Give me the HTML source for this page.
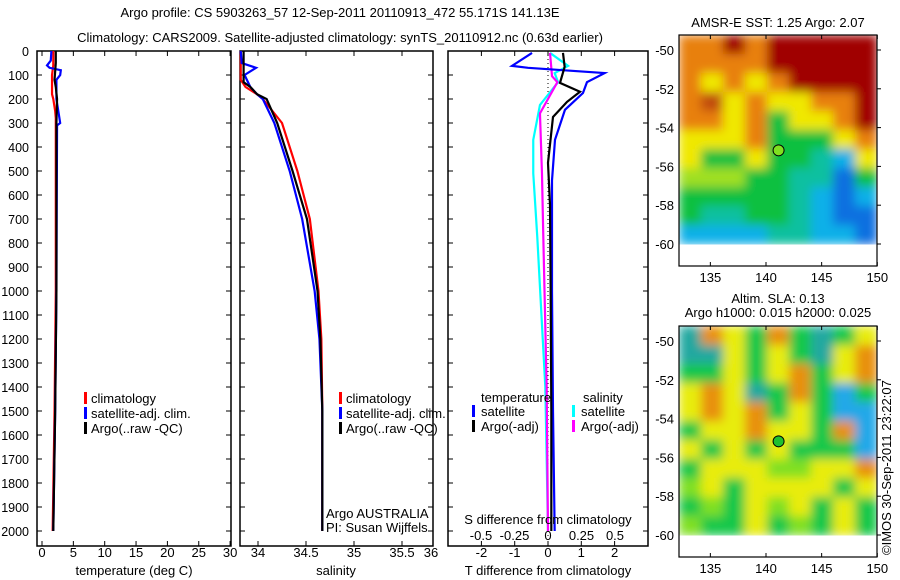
<!DOCTYPE html>
<html><head><meta charset="utf-8"><style>
body{margin:0;background:#fff}
svg{display:block;font-family:"Liberation Sans",sans-serif;font-size:13px}
</style></head><body>
<svg id="fig" width="900" height="580" viewBox="0 0 900 580" xmlns="http://www.w3.org/2000/svg">
<defs>
<filter id="blur" x="0" y="0" width="1" height="1"><feGaussianBlur stdDeviation="5" edgeMode="duplicate"/></filter>
<clipPath id="clipSst"><rect x="679" y="35" width="198" height="210"/></clipPath>
<clipPath id="clipSla"><rect x="679" y="326" width="198" height="210"/></clipPath>
</defs>
<text x="340" y="17" text-anchor="middle">Argo profile: CS 5903263_57 12-Sep-2011 20110913_472 55.171S 141.13E</text>
<text x="340" y="42" text-anchor="middle">Climatology: CARS2009. Satellite-adjusted climatology: synTS_20110912.nc (0.63d earlier)</text>
<g id="g"></g>
</svg>
<script>
// ---- data ----
const depthTicks=[0,100,200,300,400,500,600,700,800,900,1000,1100,1200,1300,1400,1500,1600,1700,1800,1900,2000];
const tTicks=[0,5,10,15,20,25,30];
const sTicks=[34,34.5,35,35.5];
const dTTicks=[-2,-1,0,1,2];
const dSTicks=[-0.5,-0.25,0,0.25,0.5];
const tClimDepth=[0,60,100,180,200,250,280,1000,1500,2000];
const tClimVal=[1.8,1.8,1.6,1.6,1.8,2.1,2.2,2.2,2.0,1.7];
const tArgoDepth=[0,50,120,150,200,300,1000,1500,2000];
const tArgoVal=[2.2,2.2,2.0,2.2,2.4,2.3,2.3,2.1,1.8];
const tSatDepth=[0,40,60,70,80,100,120,200,300,310,1000,1500,2000];
const tSatVal=[1.5,1.4,0.8,1.2,3.0,2.9,2.3,2.3,2.9,2.4,2.3,2.1,1.8];
const sClimDepth=[0,120,150,180,200,300,500,700,1000,1200,1500,2000];
const sClimVal=[33.82,33.82,33.87,33.99,34.05,34.25,34.41,34.54,34.63,34.66,34.67,34.67];
const sArgoDepth=[0,130,150,180,200,300,500,700,1000,1200,1500,2000];
const sArgoVal=[33.85,33.85,33.92,33.99,34.09,34.2,34.36,34.51,34.62,34.65,34.67,34.67];
const sSatDepth=[0,50,70,100,150,180,200,300,500,700,1000,1200,1500,2000];
const sSatVal=[33.82,33.83,33.98,33.86,33.92,33.99,34.05,34.17,34.33,34.46,34.59,34.64,34.67,34.67];
const dTSatDepth=[8,62,70,92,130,175,245,370,540,1000,1500,2000];
const dTSatVal=[-0.48,-1.08,-0.6,1.7,1.17,1.05,0.51,0.21,0.12,0.12,0.15,0.2];
const dTArgoDepth=[8,66,133,170,212,275,466,640,1000,1500,2000];
const dTArgoVal=[0.45,0.5,0.36,0.96,0.57,0.15,0,0.06,0.08,0.1,0.1];
const dSSatDepth=[8,62,92,130,225,370,510,775,1400,2000];
const dSSatVal=[0.015,0.15,0.05,0.075,-0.06,-0.11,-0.11,-0.08,-0.02,0];
const dSArgoDepth=[8,105,130,260,510,775,1400,2000];
const dSArgoVal=[0.015,0.03,0.07,-0.06,-0.045,-0.035,-0.01,0];
const lonTicks=[135,140,145,150];
const latTicks=[-50,-52,-54,-56,-58,-60];
const argoLon=141.13, argoLat=-55.171;
const sstGrid=[
"OODODDDDD","OOOODDDDD","OYOYODDDD","ORYOYYOOD","OOYOGYYOD","YYYOGGGYO","YGGYGGTCY","LLLGGTTBG","GGGGGTCBC","GTTGGTCBB","CCCCTTCCB"];
const slaGrid=[
"TOYGOGTGY","TTYGYGTYO","GGYGYOGYO","YOYTGOGCG","YOYOGYGCC","GYYOYYGOC","YGYGYGGGC","GYYYLLYYO","LYGYYYYGY","GLGYLYGYG","LGGYGLGYG"];
const pal={D:"#a00000",O:"#e8800a",R:"#c04808",Y:"#f0e800",L:"#a0e020",G:"#10c040",T:"#10c0a0",C:"#10b0e8",B:"#1070e0"};
const slaPal={D:"#a00000",O:"#e89010",R:"#c04808",Y:"#e8ec10",L:"#80e020",G:"#18c848",T:"#20a8a0",C:"#20a8e8",B:"#1070e0"};
// ---- helpers ----
const NS="http://www.w3.org/2000/svg";const G=document.getElementById('g');
function el(tag,a,p){const e=document.createElementNS(NS,tag);for(const k in a)e.setAttribute(k,a[k]);(p||G).appendChild(e);return e;}
function txt(x,y,s,anchor,p){const t=el('text',{x:x,y:y,'text-anchor':anchor||'start'},p);t.textContent=s;return t;}
const Y0=51,Y1=546;const yD=d=>Y0+0.24*d;
const xT=t=>42+6.27*t, xS=s=>258+96*(s-34), xdT=v=>548+33.3*v, xdS=v=>548+134*v;
function panel(x0,x1,name){const r=el('rect',{x:x0,y:Y0,width:x1-x0,height:Y1-Y0,fill:'none',stroke:'#000','stroke-width':1.5});


depthTicks.forEach(d=>{el('line',{x1:x0,x2:x0+5,y1:yD(d),y2:yD(d),stroke:'#000'});el('line',{x1:x1-5,x2:x1,y1:yD(d),y2:yD(d),stroke:'#000'});});}
function line(ds,vs,fx,col,name){const p=el('polyline',{points:ds.map((d,i)=>fx(vs[i])+','+yD(d)).join(' '),fill:'none',stroke:col,'stroke-width':2.2});

}
function xticks(vals,fx,labY,fmt){vals.forEach(v=>{const x=fx(v);el('line',{x1:x,x2:x,y1:Y1,y2:Y1-5,stroke:'#000'});el('line',{x1:x,x2:x,y1:Y0,y2:Y0+5,stroke:'#000'});const t=txt(x,labY,fmt?fmt(v):String(v),'middle');});}
// depth labels
depthTicks.forEach(d=>{const t=txt(29,yD(d)+5,String(d),'end');t.setAttribute('font-size','12.5');});
// panel 1
panel(37,231,'temperature-panel');
xticks(tTicks,xT,557);
line(tClimDepth,tClimVal,xT,'#f00','temp-climatology-line');
line(tSatDepth,tSatVal,xT,'#00f','temp-satellite-line');
line(tArgoDepth,tArgoVal,xT,'#000','temp-argo-line');
let t=txt(134,575,'temperature (deg C)','middle');
// panel 2
panel(240,433,'salinity-panel');
xticks(sTicks,xS,557,v=>String(v));
t=txt(431,557,'36','middle');
line(sClimDepth,sClimVal,xS,'#f00','sal-climatology-line');
line(sSatDepth,sSatVal,xS,'#00f','sal-satellite-line');
line(sArgoDepth,sArgoVal,xS,'#000','sal-argo-line');
t=txt(336,575,'salinity','middle');
// legends 1,2
[[84,'temp-legend'],[339,'sal-legend']].forEach(([lx,nm])=>{
 [['#f00','climatology'],['#00f','satellite-adj. clim.'],['#000','Argo(..raw -QC)']].forEach((e,i)=>{
  el('rect',{x:lx,y:392+i*15,width:3,height:12,fill:e[0]});
  const tt=txt(lx+7,403+i*15,e[1]);});});
t=txt(326,518,'Argo AUSTRALIA');
t=txt(326,532,'PI: Susan Wijffels');
// panel 3
panel(448,648,'difference-panel');
el('line',{x1:xdT(0),x2:xdT(0),y1:Y0,y2:Y1,stroke:'#000','stroke-dasharray':'1,3'});
xticks(dTTicks,xdT,557);
dSTicks.forEach(v=>{const tt=txt(xdS(v),540,(v<0?'-':'')+(v===0?'0':String(Math.abs(v))),'middle');});
line(dSSatDepth,dSSatVal,xdS,'#0ff','sdiff-satellite-line');
line(dSArgoDepth,dSArgoVal,xdS,'#f0f','sdiff-argo-line');
line(dTSatDepth,dTSatVal,xdT,'#00f','tdiff-satellite-line');
line(dTArgoDepth,dTArgoVal,xdT,'#000','tdiff-argo-line');
t=txt(548,524,'S difference from climatology','middle');
t=txt(548,575,'T difference from climatology','middle');
t=txt(481,402,'temperature');
t=txt(583,402,'salinity');
[[472,'#00f','satellite'],[472,'#000','Argo(-adj)'],[572,'#0ff','satellite'],[572,'#f0f','Argo(-adj)']].forEach((e,i)=>{
 const r=i%2;el('rect',{x:e[0],y:405+r*15,width:3,height:12,fill:e[1]});
 const tt=txt(e[0]+9,416+r*15,e[2]);});
// maps
function map(top,grid,palette,name,dotCol,clipId){
 const x0=679,x1=877,yTop=top,yBot=top+231;
 const xL=lon=>766+11.13*(lon-140), yL=lat=>top+15+19.4*(-50-lat);
 const rows=grid.length, cols=grid[0].length;
 const cw=(x1-x0)/cols, rh=(yL(-60)-yTop)/rows;
 const outer=el('g',{'clip-path':'url(#'+clipId+')'});
 const cg=el('g',{filter:'url(#blur)'},outer);
 grid.forEach((row,ri)=>{for(let ci=0;ci<cols;ci++){const r=el('rect',{x:x0+ci*cw,y:yTop+ri*rh,width:cw+0.5,height:rh+0.5,fill:palette[row[ci]]},cg);}});
 const b=el('rect',{x:x0,y:yTop,width:x1-x0,height:yBot-yTop,fill:'none',stroke:'#000','stroke-width':1.2});
 
 
 lonTicks.forEach(l=>{el('line',{x1:xL(l),x2:xL(l),y1:yBot,y2:yBot-4,stroke:'#000'});el('line',{x1:xL(l),x2:xL(l),y1:yTop,y2:yTop+4,stroke:'#000'});
  const tt=txt(xL(l),yBot+16,String(l),'middle');});
 latTicks.forEach(l=>{el('line',{x1:x1,x2:x1+4,y1:yL(l),y2:yL(l),stroke:'#000'});
  const tt=txt(674,yL(l)+5,String(l),'end');});
 const c=el('circle',{cx:xL(argoLon),cy:yL(argoLat),r:5.5,fill:dotCol,stroke:'#000','stroke-width':1});
 
 
}
map(35,sstGrid,pal,'sst-map','#80e020','clipSst');
map(326,slaGrid,slaPal,'sla-map','#20c030','clipSla');
t=txt(778,27,'AMSR-E SST: 1.25 Argo: 2.07','middle');
t=txt(778,303,'Altim. SLA: 0.13','middle');
t=txt(778,317,'Argo h1000: 0.015 h2000: 0.025','middle');
t=el('text',{x:0,y:0,transform:'translate(891,555) rotate(-90)'});t.textContent='©IMOS 30-Sep-2011 23:22:07';


</script>
</body></html>
